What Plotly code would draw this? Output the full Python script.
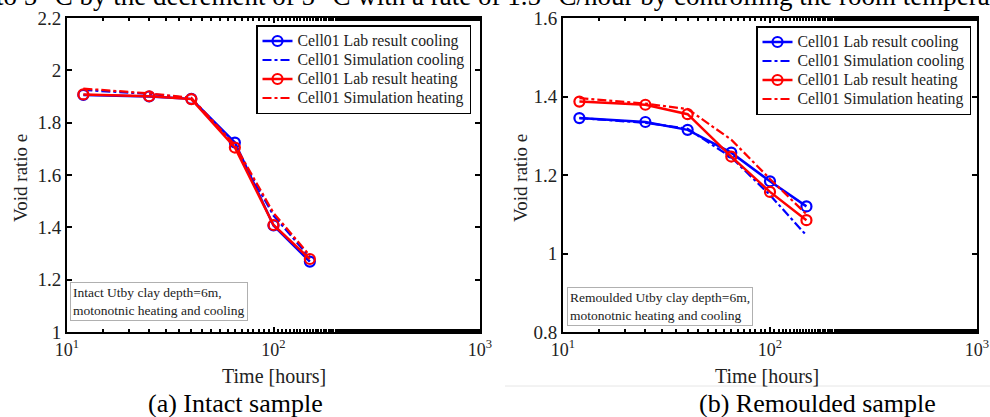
import plotly.graph_objects as go

# ---- data ----
time_h = [12, 25, 40, 65, 100, 150]

intact_lab_cool = [1.906, 1.900, 1.891, 1.724, 1.407, 1.269]
intact_sim_cool = [1.925, 1.910, 1.893, 1.710, 1.445, 1.285]
intact_lab_heat = [1.908, 1.901, 1.890, 1.705, 1.409, 1.279]
intact_sim_heat = [1.930, 1.912, 1.895, 1.715, 1.455, 1.292]

rem_lab_cool = [1.345, 1.335, 1.315, 1.257, 1.184, 1.120]
rem_sim_cool = [1.345, 1.333, 1.318, 1.245, 1.149, 1.046]
rem_lab_heat = [1.387, 1.379, 1.355, 1.247, 1.157, 1.085]
rem_sim_heat = [1.396, 1.382, 1.368, 1.290, 1.190, 1.100]

series_names = ["Cell01 Lab result cooling", "Cell01 Simulation cooling",
                "Cell01 Lab result heating", "Cell01 Simulation heating"]
x_tickvals = [10, 100, 1000]
x_ticktext = ["10<sup>1</sup>", "10<sup>2</sup>", "10<sup>3</sup>"]
y1_ticks = [1, 1.2, 1.4, 1.6, 1.8, 2, 2.2]
y1_text = ["1", "1.2", "1.4", "1.6", "1.8", "2", "2.2"]
y2_ticks = [0.8, 1, 1.2, 1.4, 1.6]
y2_text = ["0.8", "1", "1.2", "1.4", "1.6"]

BLUE = "#0000FF"
RED = "#FF0000"
FONT = "Liberation Serif"
W, H = 990, 417

fig = go.Figure()

def leg_name(s):
    return '<span style="font-size:15.8px">' + s + '</span>'

def add_set(xa, ya, leg, lc, sc, lh, sh):
    fig.add_trace(go.Scatter(x=time_h, y=lc, name=leg_name(series_names[0]), mode="lines+markers",
                             line=dict(color=BLUE, width=2.5),
                             marker=dict(symbol="circle-open", size=10, color=BLUE, line=dict(width=2.2)),
                             xaxis=xa, yaxis=ya, legend=leg))
    fig.add_trace(go.Scatter(x=time_h, y=sc, name=leg_name(series_names[1]), mode="lines",
                             line=dict(color=BLUE, width=2.2, dash="dashdot"),
                             xaxis=xa, yaxis=ya, legend=leg))
    fig.add_trace(go.Scatter(x=time_h, y=lh, name=leg_name(series_names[2]), mode="lines+markers",
                             line=dict(color=RED, width=2.5),
                             marker=dict(symbol="circle-open", size=10, color=RED, line=dict(width=2.2)),
                             xaxis=xa, yaxis=ya, legend=leg))
    fig.add_trace(go.Scatter(x=time_h, y=sh, name=leg_name(series_names[3]), mode="lines",
                             line=dict(color=RED, width=2.2, dash="dashdot"),
                             xaxis=xa, yaxis=ya, legend=leg))

add_set("x", "y", "legend", intact_lab_cool, intact_sim_cool, intact_lab_heat, intact_sim_heat)
add_set("x2", "y2", "legend2", rem_lab_cool, rem_sim_cool, rem_lab_heat, rem_sim_heat)

ydom = [1 - 332 / H, 1 - 18 / H]
xdom1 = [67 / W, 480 / W]
xdom2 = [563 / W, 977 / W]

axis_common = dict(showline=True, linecolor="black", linewidth=2, mirror="allticks",
                   ticks="inside", ticklen=5, tickwidth=1.5, tickcolor="black",
                   showgrid=False, zeroline=False, automargin=False)

xa = dict(axis_common, type="log", range=[1, 3], tickvals=x_tickvals, ticktext=x_ticktext,
          tickfont=dict(family=FONT, size=18, color="#222"),
          minor=dict(ticks="inside", ticklen=3, tickwidth=1.5, tickcolor="black", showgrid=False))
yfont = dict(family=FONT, size=19, color="#222")
fig.update_layout(
    xaxis=dict(xa, domain=xdom1, anchor="y"),
    xaxis2=dict(xa, domain=xdom2, anchor="y2"),
    yaxis=dict(axis_common, domain=ydom, range=[1, 2.2], tickvals=y1_ticks, ticktext=y1_text,
               tickfont=yfont, anchor="x"),
    yaxis2=dict(axis_common, domain=ydom, range=[0.8, 1.6], tickvals=y2_ticks, ticktext=y2_text,
                tickfont=yfont, anchor="x2"),
)

leg_common = dict(bgcolor="white", bordercolor="black", borderwidth=1.5,
                  font=dict(family=FONT, size=11.8, color="#222"),
                  xanchor="left", yanchor="top", tracegroupgap=0, itemwidth=30)
fig.update_layout(
    legend=dict(leg_common, x=256 / W, y=1 - 25 / H),
    legend2=dict(leg_common, x=756 / W, y=1 - 26 / H),
    width=W, height=H, margin=dict(l=0, r=0, t=0, b=0),
    paper_bgcolor="white", plot_bgcolor="white",
)

ann = []
# in-plot notes
ann.append(dict(text="Intact Utby clay depth=6m,<br>motonotnic heating and cooling",
                xref="paper", yref="paper", x=70 / W, y=1 - 282 / H, xanchor="left", yanchor="top",
                showarrow=False, align="left", bgcolor="white", bordercolor="#b0b0b0", borderwidth=1,
                borderpad=2, font=dict(family=FONT, size=13.5, color="#222")))
ann.append(dict(text="Remoulded Utby clay depth=6m,<br>motonotnic heating and cooling",
                xref="paper", yref="paper", x=567 / W, y=1 - 287 / H, xanchor="left", yanchor="top",
                showarrow=False, align="left", bgcolor="white", bordercolor="#b0b0b0", borderwidth=1,
                borderpad=2, font=dict(family=FONT, size=13.5, color="#222")))
# axis titles
for cx in (274, 767):
    ann.append(dict(text="Time [hours]", xref="paper", yref="paper", x=cx / W, y=1 - 376 / H,
                    xanchor="center", yanchor="middle", showarrow=False,
                    font=dict(family=FONT, size=20, color="#222")))
for cx in (20, 520):
    ann.append(dict(text="Void ratio e", xref="paper", yref="paper", x=cx / W, y=1 - 178 / H,
                    xanchor="center", yanchor="middle", showarrow=False, textangle=-90,
                    font=dict(family=FONT, size=19, color="#222")))
# captions
ann.append(dict(text="(a) Intact sample", xref="paper", yref="paper", x=235 / W, y=1 - 403 / H,
                xanchor="center", yanchor="middle", showarrow=False,
                font=dict(family=FONT, size=26, color="black")))
ann.append(dict(text="(b) Remoulded sample", xref="paper", yref="paper", x=817 / W, y=1 - 403 / H,
                xanchor="center", yanchor="middle", showarrow=False,
                font=dict(family=FONT, size=26, color="black")))
# clipped text at the very top
ann.append(dict(text="to 5 °C by the decrement of 5 °C with a rate of 1.5 °C/hour by controlling the room temperature",
                xref="paper", yref="paper", x=0, y=1, xanchor="left", yanchor="bottom",
                xshift=-6, yshift=-13, showarrow=False,
                font=dict(family=FONT, size=27, color="black")))
fig.update_layout(annotations=ann)

fig.add_shape(type="line", xref="paper", yref="paper", x0=505 / W, x1=1, y0=1 - 386 / H, y1=1 - 386 / H,
              line=dict(color="#e6e6e6", width=1))

fig.write_html("out.html", config={"displayModeBar": False},
               post_script="document.body.style.margin='0';document.body.style.padding='0';document.body.style.overflow='hidden';")
